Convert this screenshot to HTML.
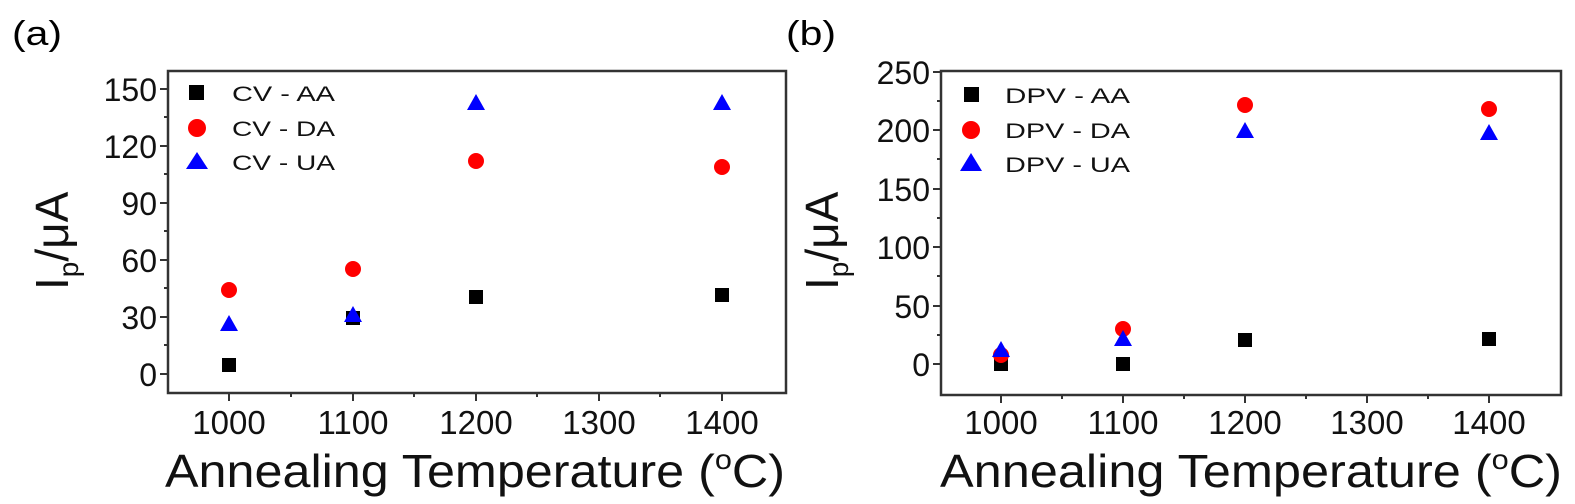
<!DOCTYPE html>
<html><head><meta charset="utf-8"><style>
html,body{margin:0;padding:0;background:#fff;}
svg{display:block;font-family:"Liberation Sans",Arial,sans-serif;}
</style></head><body>
<svg width="1575" height="504" viewBox="0 0 1575 504" xmlns="http://www.w3.org/2000/svg">
<!-- Panel a -->
<text x="12" y="45" font-size="34" textLength="50" lengthAdjust="spacingAndGlyphs">(a)</text>
<rect x="168" y="71" width="618" height="322" fill="none" stroke="#333" stroke-width="2.5"/>
<g stroke="#333" stroke-width="2">
<line x1="160" y1="374" x2="168" y2="374"/><line x1="160" y1="317" x2="168" y2="317"/>
<line x1="160" y1="260" x2="168" y2="260"/><line x1="160" y1="203" x2="168" y2="203"/>
<line x1="160" y1="146" x2="168" y2="146"/><line x1="160" y1="89" x2="168" y2="89"/>
<line x1="164" y1="345" x2="168" y2="345"/><line x1="164" y1="288" x2="168" y2="288"/>
<line x1="164" y1="231" x2="168" y2="231"/><line x1="164" y1="174" x2="168" y2="174"/>
<line x1="164" y1="117" x2="168" y2="117"/>
<line x1="229" y1="393" x2="229" y2="401"/><line x1="353" y1="393" x2="353" y2="401"/>
<line x1="476" y1="393" x2="476" y2="401"/><line x1="599" y1="393" x2="599" y2="401"/>
<line x1="722" y1="393" x2="722" y2="401"/>
<line x1="291" y1="393" x2="291" y2="397"/><line x1="414" y1="393" x2="414" y2="397"/>
<line x1="537" y1="393" x2="537" y2="397"/><line x1="660" y1="393" x2="660" y2="397"/>
</g>
<g font-size="32" text-anchor="end" fill="#111">
<text x="157" y="386">0</text><text x="157" y="329">30</text><text x="157" y="272">60</text>
<text x="157" y="215">90</text><text x="157" y="158">120</text><text x="157" y="101">150</text>
</g>
<g font-size="33" text-anchor="middle" fill="#111">
<text x="229" y="434">1000</text><text x="353" y="434">1100</text><text x="476" y="434">1200</text>
<text x="599" y="434">1300</text><text x="722" y="434">1400</text>
</g>
<text x="165" y="487" font-size="46" fill="#111" textLength="620" lengthAdjust="spacingAndGlyphs">Annealing Temperature (<tspan font-size="28" dy="-18">o</tspan><tspan dy="18">C)</tspan></text>
<text transform="translate(68,290) rotate(-90)" font-size="46" fill="#111">I<tspan font-size="28" dy="10">p</tspan><tspan dy="-10">/μA</tspan></text>
<!-- legend a -->
<rect x="189" y="85" width="15" height="15" fill="#000"/>
<circle cx="197" cy="128" r="9" fill="#f00"/>
<polygon points="197,152 208,169 186,169" fill="#00f"/>
<g font-size="21" fill="#111"><text x="232" y="101" textLength="103" lengthAdjust="spacingAndGlyphs">CV - AA</text><text x="232" y="136" textLength="103" lengthAdjust="spacingAndGlyphs">CV - DA</text><text x="232" y="170" textLength="103" lengthAdjust="spacingAndGlyphs">CV - UA</text></g>
<!-- data a -->
<g fill="#000">
<rect x="222" y="358" width="14" height="14"/><rect x="346" y="311" width="14" height="14"/>
<rect x="469" y="290" width="14" height="14"/><rect x="715" y="288" width="14" height="14"/>
</g>
<g fill="#f00">
<circle cx="229" cy="290" r="8"/><circle cx="353" cy="269" r="8"/>
<circle cx="476" cy="161" r="8"/><circle cx="722" cy="167" r="8"/>
</g>
<g fill="#00f">
<polygon points="229,315 238,331 220,331"/><polygon points="353,306 362,322 344,322"/>
<polygon points="476,94 485,110 467,110"/><polygon points="722,94 731,110 713,110"/>
</g>

<!-- Panel b -->
<text x="786" y="45" font-size="34" textLength="50" lengthAdjust="spacingAndGlyphs">(b)</text>
<rect x="941" y="71" width="620" height="324" fill="none" stroke="#333" stroke-width="2.5"/>
<g stroke="#333" stroke-width="2">
<line x1="933" y1="364" x2="941" y2="364"/><line x1="933" y1="306" x2="941" y2="306"/>
<line x1="933" y1="247" x2="941" y2="247"/><line x1="933" y1="189" x2="941" y2="189"/>
<line x1="933" y1="130" x2="941" y2="130"/><line x1="933" y1="72" x2="941" y2="72"/>
<line x1="937" y1="335" x2="941" y2="335"/><line x1="937" y1="276" x2="941" y2="276"/>
<line x1="937" y1="218" x2="941" y2="218"/><line x1="937" y1="159" x2="941" y2="159"/>
<line x1="937" y1="101" x2="941" y2="101"/>
<line x1="1001" y1="395" x2="1001" y2="403"/><line x1="1123" y1="395" x2="1123" y2="403"/>
<line x1="1245" y1="395" x2="1245" y2="403"/><line x1="1367" y1="395" x2="1367" y2="403"/>
<line x1="1489" y1="395" x2="1489" y2="403"/>
<line x1="1062" y1="395" x2="1062" y2="399"/><line x1="1184" y1="395" x2="1184" y2="399"/>
<line x1="1306" y1="395" x2="1306" y2="399"/><line x1="1428" y1="395" x2="1428" y2="399"/>
</g>
<g font-size="32" text-anchor="end" fill="#111">
<text x="930" y="376">0</text><text x="930" y="318">50</text><text x="930" y="259">100</text>
<text x="930" y="201">150</text><text x="930" y="142">200</text><text x="930" y="84">250</text>
</g>
<g font-size="33" text-anchor="middle" fill="#111">
<text x="1001" y="434">1000</text><text x="1123" y="434">1100</text><text x="1245" y="434">1200</text>
<text x="1367" y="434">1300</text><text x="1489" y="434">1400</text>
</g>
<text x="940" y="487" font-size="46" fill="#111" textLength="622" lengthAdjust="spacingAndGlyphs">Annealing Temperature (<tspan font-size="28" dy="-18">o</tspan><tspan dy="18">C)</tspan></text>
<text transform="translate(838,290) rotate(-90)" font-size="46" fill="#111">I<tspan font-size="28" dy="10">p</tspan><tspan dy="-10">/μA</tspan></text>
<!-- legend b -->
<rect x="964" y="87" width="15" height="15" fill="#000"/>
<circle cx="971" cy="130" r="9" fill="#f00"/>
<polygon points="971,153 982,171 960,171" fill="#00f"/>
<g font-size="21" fill="#111"><text x="1005" y="103" textLength="125" lengthAdjust="spacingAndGlyphs">DPV - AA</text><text x="1005" y="138" textLength="125" lengthAdjust="spacingAndGlyphs">DPV - DA</text><text x="1005" y="172" textLength="125" lengthAdjust="spacingAndGlyphs">DPV - UA</text></g>
<!-- data b -->
<g fill="#000">
<rect x="994" y="357" width="14" height="14"/><rect x="1116" y="357" width="14" height="14"/>
<rect x="1238" y="333" width="14" height="14"/><rect x="1482" y="332" width="14" height="14"/>
</g>
<g fill="#f00">
<circle cx="1001" cy="355" r="8"/><circle cx="1123" cy="329" r="8"/>
<circle cx="1245" cy="105" r="8"/><circle cx="1489" cy="109" r="8"/>
</g>
<g fill="#00f">
<polygon points="1001,341 1010,357 992,357"/><polygon points="1123,330 1132,346 1114,346"/>
<polygon points="1245,122 1254,138 1236,138"/><polygon points="1489,124 1498,140 1480,140"/>
</g>
</svg>
</body></html>
